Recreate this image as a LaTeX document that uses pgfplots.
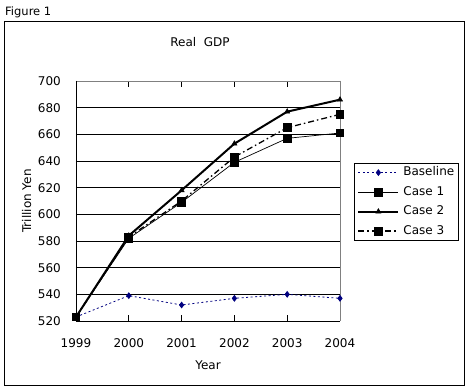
\documentclass[border=0pt]{standalone}
\usepackage{fontspec}
\setmainfont{DejaVu Sans}
\usepackage{pgfplots}
\pgfplotsset{compat=1.18}
\definecolor{navyb}{RGB}{0,0,128}
\definecolor{bordergray}{RGB}{128,128,128}
\begin{document}
\begin{tikzpicture}
\path[use as bounding box, fill=white] (0pt,0pt) rectangle (469pt,391pt);
\draw[line width=1pt] (4.5pt,5pt) rectangle (464pt,369.5pt);
\node[anchor=west, font=\fontsize{11.5}{13}\selectfont, inner sep=0pt] at (5pt,379pt) {Figure 1};
\node[font=\fontsize{12}{14}\selectfont, inner sep=0pt] at (200pt,349pt) {Real\ \ GDP};
\begin{axis}[
  at={(76pt,70pt)}, anchor=south west,
  scale only axis, width=264pt, height=240pt,
  xmin=1999, xmax=2004, ymin=520, ymax=700,
  xtick={1999,2000,2001,2002,2003,2004},
  ytick={520,540,560,580,600,620,640,660,680,700},
  clip=false,
  axis line style={draw=none},
  ymajorgrids, grid style={black, line width=0.8pt},
  tick align=inside, major tick length=6pt,
  xtick style={black, line width=0.8pt},
  ytick style={draw=none},
  ticklabel style={font=\fontsize{12}{14}\selectfont},
  /pgf/number format/assume math mode=true,
  /pgf/number format/1000 sep={},
  xticklabel style={anchor=north, inner sep=0pt, yshift=-17.5pt},
  yticklabel style={anchor=east, inner sep=0pt, xshift=-15pt},
  xlabel={Year}, ylabel={Trillion Yen},
  label style={font=\fontsize{12}{14}\selectfont},
  xlabel style={at={(axis description cs:0.5,-0.183)}, anchor=center},
  ylabel style={at={(axis description cs:-0.1867,0.5)}, anchor=center},
  legend style={at={(axis description cs:1.053,0.6596)}, anchor=north west,
    draw=black, line width=0.8pt, font=\fontsize{12}{14}\selectfont,
    inner xsep=3pt, inner ysep=3pt, row sep=6.5pt, column sep=3pt,
    nodes={inner sep=1pt, text height=8.5pt, text depth=2.5pt}},
  legend cell align=left,
  legend image code/.code={\draw[mark repeat=2,mark phase=2,#1] plot coordinates {(0pt,0pt) (20pt,0pt) (40pt,0pt)};},
]
\draw[bordergray, line width=0.8pt] (axis cs:1999,700) -- (axis cs:2004,700) -- (axis cs:2004,520);
\draw[black, line width=0.8pt] (axis cs:1999,700) -- (axis cs:1999,520) -- (axis cs:2004,520);
\addplot[navyb, line width=0.8pt, dash pattern=on 2pt off 2.5pt, mark=diamond*, mark size=2.8pt, mark options={solid}]
  coordinates {(1999,523) (2000,539) (2001,532) (2002,537) (2003,540) (2004,537)};
\addlegendentry{Baseline}
\addplot[black, line width=0.7pt, mark=square*, mark size=3.8pt, mark options={solid}]
  coordinates {(1999,523) (2000,582) (2001,609) (2002,639) (2003,657) (2004,661)};
\addlegendentry{Case 1}
\addplot[black, line width=2pt, mark=triangle*, mark size=3pt, mark options={solid, line width=0.5pt}]
  coordinates {(1999,523) (2000,584) (2001,618) (2002,653) (2003,677) (2004,686)};
\addlegendentry{Case 2}
\addplot[black, line width=1.3pt, dash pattern=on 6pt off 3pt on 1.5pt off 3pt, mark=square*, mark size=3.8pt, mark options={solid}]
  coordinates {(1999,523) (2000,583) (2001,610) (2002,643) (2003,665) (2004,675)};
\addlegendentry{Case 3}
\end{axis}
\end{tikzpicture}
\end{document}
